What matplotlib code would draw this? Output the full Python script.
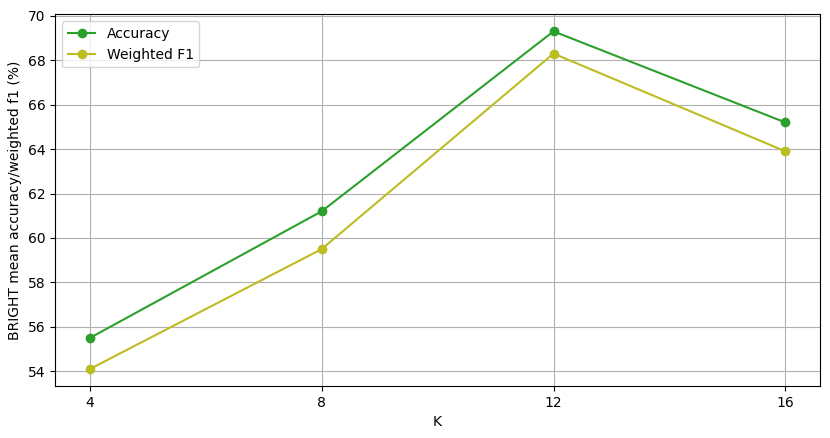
import matplotlib
matplotlib.use('Agg')
import matplotlib.pyplot as plt

# values
k_values = [4, 8, 12, 16]
accuracy = [55.5, 61.2, 69.3, 65.2]
weighted_f1 = [54.1, 59.5, 68.3, 63.9]

fig, ax = plt.subplots(figsize=(8.3, 4.38), dpi=100)

ax.plot(k_values, accuracy, marker='o', color='tab:green', label='Accuracy')
ax.plot(k_values, weighted_f1, marker='o', color='tab:olive', label='Weighted F1')

ax.set_xticks(k_values)
ax.set_xlabel('K')
ax.set_ylabel('BRIGHT mean accuracy/weighted f1 (%)')
ax.grid(True)
ax.legend(loc='upper left')

plt.subplots_adjust(left=0.0665, right=0.988, top=0.967, bottom=0.119)
plt.savefig('out.png', dpi=100)
plt.close()
